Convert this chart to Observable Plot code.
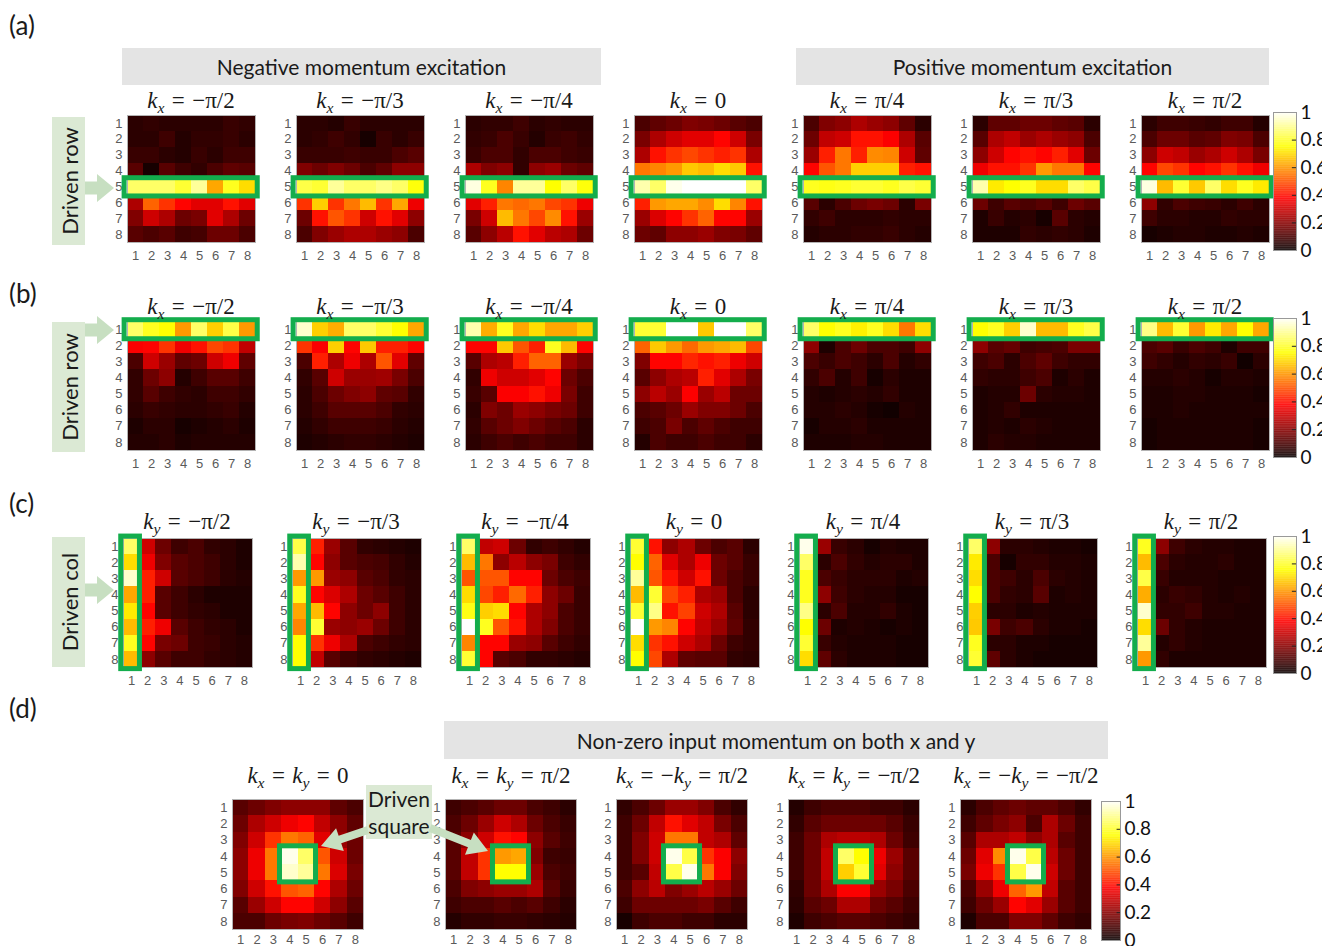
<!DOCTYPE html>
<html>
<head>
<meta charset="utf-8">
<script src="https://cdn.jsdelivr.net/npm/d3@7"></script>
<script src="https://cdn.jsdelivr.net/npm/@observablehq/plot@0.6"></script>
<style>
  body { margin: 0; background: #fff; }
  #fig { position: relative; width: 1322px; height: 946px; overflow: hidden; font-family: Lato, "Open Sans", sans-serif; color: #1a1a1a; }
  .abs { position: absolute; }
  .tag { font-size: 26px; line-height: 30px; }
  .band { background: #e4e4e4; display: flex; align-items: center; justify-content: center; font-size: 21px; }
  .title { font-family: "Liberation Serif", serif; font-size: 23px; line-height: 26px; white-space: nowrap; transform: translateX(-50%); }
  .title .sub { font-size: 0.68em; position: relative; top: 0.32em; font-style: italic; }
  .title .rel { margin: 0 0.32em; }
  .side { background: #dbe9d4; }
  .side span { position: absolute; left: 50%; top: 50%; transform: translate(-50%, -50%) rotate(-90deg); white-space: nowrap; font-size: 22px; }
  .note { background: #dbe9d4; font-size: 21px; line-height: 27px; text-align: center; display: flex; flex-direction: column; justify-content: center; }
</style>
</head>
<body>
<div id="fig"></div>
<script>
// ---------- momentum labels ----------
const kLabels = ["−π/2", "−π/3", "−π/4", "0", "π/4", "π/3", "π/2"];
const dTitles = [
  ["x", "=", "y", "0"],
  ["x", "=", "y", "π/2"],
  ["x", "=−", "y", "π/2"],
  ["x", "=", "y", "−π/2"],
  ["x", "=−", "y", "−π/2"]
];
const barTicks = [0, 0.2, 0.4, 0.6, 0.8, 1];

// ---------- (a) driven row 5, kx sweep (rows 1..8, columns 1..8) ----------
const a_m2 = [
  [0.05,0.06,0.05,0.05,0.05,0.05,0.07,0.06],
  [0.05,0.05,0.08,0.04,0.06,0.06,0.07,0.05],
  [0.07,0.07,0.05,0.04,0.07,0.05,0.08,0.08],
  [0.12,0.02,0.12,0.08,0.06,0.10,0.13,0.12],
  [0.85,0.85,0.85,0.80,0.90,0.62,0.78,0.70],
  [0.25,0.52,0.45,0.38,0.33,0.33,0.40,0.33],
  [0.18,0.30,0.25,0.15,0.17,0.33,0.25,0.15],
  [0.12,0.10,0.12,0.08,0.09,0.15,0.15,0.10]
];
const a_m3 = [
  [0.05,0.05,0.04,0.07,0.05,0.05,0.05,0.05],
  [0.05,0.06,0.08,0.06,0.02,0.07,0.05,0.07],
  [0.07,0.07,0.07,0.08,0.07,0.07,0.10,0.12],
  [0.18,0.15,0.18,0.15,0.10,0.13,0.20,0.20],
  [0.82,0.80,0.90,0.85,0.85,0.88,0.85,0.76],
  [0.45,0.68,0.45,0.55,0.65,0.45,0.62,0.35],
  [0.15,0.40,0.50,0.45,0.30,0.40,0.33,0.20],
  [0.10,0.18,0.22,0.25,0.25,0.22,0.20,0.10]
];
const a_m4 = [
  [0.05,0.06,0.06,0.08,0.05,0.06,0.05,0.05],
  [0.06,0.07,0.10,0.07,0.04,0.07,0.08,0.06],
  [0.07,0.10,0.10,0.06,0.10,0.10,0.08,0.07],
  [0.25,0.18,0.20,0.06,0.20,0.22,0.15,0.13],
  [0.97,0.78,0.57,0.90,0.90,0.75,0.85,0.76],
  [0.33,0.42,0.55,0.53,0.55,0.48,0.45,0.35],
  [0.17,0.30,0.65,0.55,0.48,0.58,0.40,0.22],
  [0.12,0.20,0.27,0.40,0.33,0.27,0.25,0.15]
];
const a_0 = [
  [0.10,0.13,0.15,0.18,0.17,0.15,0.12,0.10],
  [0.17,0.25,0.30,0.33,0.33,0.38,0.30,0.17],
  [0.25,0.40,0.45,0.48,0.45,0.42,0.45,0.25],
  [0.55,0.57,0.60,0.67,0.65,0.70,0.67,0.40],
  [0.92,0.85,0.98,1.00,1.00,1.00,1.00,0.85],
  [0.42,0.60,0.62,0.62,0.58,0.70,0.57,0.40],
  [0.22,0.32,0.38,0.45,0.52,0.38,0.38,0.22],
  [0.15,0.13,0.20,0.20,0.22,0.18,0.17,0.13]
];
const a_p4 = [
  [0.10,0.18,0.20,0.25,0.22,0.20,0.13,0.05],
  [0.15,0.28,0.30,0.40,0.40,0.37,0.25,0.12],
  [0.22,0.42,0.55,0.42,0.58,0.57,0.30,0.13],
  [0.38,0.50,0.55,0.68,0.68,0.68,0.42,0.40],
  [0.78,0.77,0.78,0.80,0.80,0.78,0.82,0.80],
  [0.12,0.05,0.10,0.15,0.17,0.15,0.05,0.17],
  [0.06,0.08,0.05,0.05,0.05,0.06,0.05,0.05],
  [0.04,0.05,0.05,0.06,0.06,0.07,0.05,0.04]
];
const a_p3 = [
  [0.05,0.13,0.13,0.15,0.15,0.13,0.12,0.05],
  [0.12,0.25,0.28,0.22,0.25,0.22,0.20,0.10],
  [0.20,0.30,0.38,0.40,0.38,0.42,0.33,0.15],
  [0.35,0.40,0.40,0.45,0.60,0.55,0.55,0.38],
  [0.92,0.72,0.75,0.78,0.70,0.70,0.85,0.82],
  [0.15,0.08,0.12,0.10,0.12,0.08,0.15,0.12],
  [0.03,0.07,0.04,0.05,0.02,0.12,0.05,0.04],
  [0.03,0.03,0.03,0.06,0.05,0.06,0.05,0.03]
];
const a_p2 = [
  [0.05,0.08,0.08,0.07,0.06,0.08,0.08,0.04],
  [0.10,0.15,0.15,0.12,0.13,0.18,0.17,0.10],
  [0.20,0.30,0.28,0.22,0.25,0.30,0.25,0.17],
  [0.38,0.48,0.45,0.38,0.40,0.45,0.40,0.35],
  [0.97,0.65,0.80,0.67,0.85,0.70,0.78,0.72],
  [0.20,0.06,0.10,0.08,0.07,0.05,0.08,0.05],
  [0.08,0.05,0.05,0.04,0.04,0.06,0.05,0.05],
  [0.02,0.03,0.04,0.04,0.03,0.03,0.04,0.03]
];

// ---------- (b) driven row 1, kx sweep ----------
const b_m2 = [
  [0.85,0.78,0.75,0.60,0.85,0.68,0.82,0.60],
  [0.37,0.38,0.45,0.35,0.40,0.48,0.45,0.28],
  [0.10,0.30,0.22,0.13,0.15,0.30,0.35,0.13],
  [0.06,0.15,0.20,0.04,0.08,0.12,0.12,0.08],
  [0.06,0.12,0.08,0.06,0.05,0.08,0.08,0.06],
  [0.05,0.07,0.06,0.05,0.05,0.06,0.07,0.04],
  [0.03,0.05,0.05,0.02,0.03,0.04,0.05,0.03],
  [0.04,0.04,0.05,0.03,0.04,0.04,0.04,0.04]
];
const b_m3 = [
  [0.95,0.68,0.63,0.85,0.85,0.80,0.75,0.62],
  [0.45,0.37,0.68,0.38,0.67,0.42,0.42,0.38],
  [0.10,0.42,0.25,0.35,0.25,0.50,0.33,0.13],
  [0.06,0.12,0.30,0.22,0.22,0.23,0.17,0.10],
  [0.05,0.10,0.15,0.18,0.20,0.13,0.12,0.06],
  [0.05,0.08,0.12,0.12,0.12,0.10,0.06,0.05],
  [0.04,0.06,0.08,0.08,0.08,0.07,0.05,0.04],
  [0.03,0.04,0.05,0.06,0.06,0.05,0.04,0.03]
];
const b_m4 = [
  [0.92,0.63,0.78,0.62,0.70,0.62,0.62,0.68],
  [0.38,0.38,0.67,0.50,0.42,0.78,0.65,0.38],
  [0.12,0.25,0.27,0.42,0.52,0.52,0.22,0.17],
  [0.06,0.35,0.30,0.30,0.33,0.38,0.15,0.10],
  [0.07,0.12,0.37,0.37,0.40,0.35,0.17,0.08],
  [0.05,0.18,0.15,0.22,0.20,0.17,0.15,0.08],
  [0.06,0.12,0.15,0.18,0.15,0.12,0.10,0.05],
  [0.05,0.08,0.10,0.08,0.10,0.08,0.08,0.05]
];
const b_0 = [
  [0.80,0.80,1.00,1.00,0.67,1.00,1.00,0.85],
  [0.52,0.67,0.60,0.53,0.60,0.62,0.65,0.48],
  [0.18,0.38,0.38,0.43,0.40,0.42,0.35,0.30],
  [0.12,0.20,0.25,0.27,0.42,0.33,0.25,0.17],
  [0.20,0.27,0.22,0.37,0.22,0.27,0.15,0.15],
  [0.10,0.12,0.15,0.22,0.18,0.18,0.15,0.10],
  [0.08,0.10,0.17,0.10,0.13,0.10,0.08,0.08],
  [0.04,0.10,0.08,0.08,0.10,0.08,0.08,0.05]
];
const b_p4 = [
  [0.85,0.75,0.78,0.73,0.78,0.70,0.55,0.70],
  [0.20,0.03,0.10,0.15,0.10,0.10,0.08,0.20],
  [0.10,0.07,0.10,0.08,0.05,0.10,0.04,0.06],
  [0.06,0.10,0.04,0.08,0.02,0.05,0.03,0.03],
  [0.04,0.03,0.04,0.05,0.04,0.06,0.03,0.03],
  [0.04,0.04,0.05,0.04,0.02,0.01,0.04,0.03],
  [0.02,0.04,0.04,0.05,0.03,0.03,0.03,0.03],
  [0.03,0.03,0.03,0.04,0.04,0.03,0.03,0.03]
];
const b_p3 = [
  [0.75,0.78,0.68,0.95,0.65,0.65,0.78,0.82],
  [0.20,0.12,0.14,0.08,0.09,0.10,0.17,0.17],
  [0.08,0.10,0.05,0.10,0.13,0.08,0.06,0.06],
  [0.06,0.05,0.05,0.08,0.10,0.03,0.05,0.03],
  [0.03,0.04,0.04,0.15,0.05,0.04,0.04,0.03],
  [0.03,0.04,0.06,0.03,0.03,0.03,0.03,0.03],
  [0.03,0.04,0.03,0.05,0.04,0.03,0.03,0.03],
  [0.03,0.05,0.04,0.04,0.03,0.03,0.03,0.03]
];
const b_p2 = [
  [0.88,0.65,0.80,0.60,0.72,0.62,0.75,0.62],
  [0.10,0.12,0.07,0.10,0.08,0.03,0.08,0.08],
  [0.08,0.06,0.04,0.06,0.05,0.07,0.01,0.05],
  [0.04,0.04,0.05,0.04,0.02,0.04,0.04,0.03],
  [0.03,0.03,0.04,0.04,0.03,0.03,0.03,0.02],
  [0.03,0.03,0.04,0.03,0.03,0.03,0.03,0.03],
  [0.02,0.03,0.03,0.03,0.03,0.03,0.03,0.02],
  [0.02,0.03,0.03,0.03,0.03,0.03,0.03,0.02]
];

// ---------- (c) driven column 1, ky sweep ----------
const c_m2 = [
  [0.85,0.30,0.15,0.08,0.10,0.06,0.05,0.03],
  [0.70,0.35,0.18,0.12,0.10,0.08,0.05,0.03],
  [0.95,0.42,0.30,0.12,0.10,0.08,0.05,0.04],
  [0.62,0.42,0.12,0.08,0.05,0.03,0.03,0.03],
  [0.72,0.38,0.12,0.08,0.06,0.05,0.03,0.03],
  [0.65,0.42,0.35,0.12,0.08,0.06,0.05,0.03],
  [0.78,0.38,0.17,0.15,0.08,0.07,0.05,0.04],
  [0.65,0.20,0.12,0.08,0.08,0.06,0.05,0.04]
];
const c_m3 = [
  [0.82,0.42,0.22,0.12,0.06,0.05,0.04,0.03],
  [0.92,0.38,0.20,0.12,0.10,0.09,0.06,0.04],
  [0.60,0.60,0.22,0.20,0.12,0.10,0.06,0.05],
  [0.78,0.38,0.32,0.25,0.15,0.12,0.08,0.05],
  [0.62,0.65,0.38,0.20,0.15,0.20,0.08,0.05],
  [0.57,0.80,0.22,0.20,0.22,0.15,0.08,0.05],
  [0.75,0.45,0.35,0.25,0.10,0.08,0.06,0.05],
  [0.75,0.28,0.12,0.08,0.06,0.05,0.04,0.03]
];
const c_m4 = [
  [0.85,0.28,0.30,0.15,0.06,0.08,0.06,0.04],
  [0.65,0.55,0.20,0.27,0.20,0.17,0.08,0.06],
  [0.50,0.50,0.50,0.38,0.38,0.15,0.10,0.08],
  [0.70,0.48,0.42,0.53,0.42,0.20,0.15,0.07],
  [0.77,0.68,0.70,0.38,0.25,0.20,0.10,0.07],
  [1.00,0.78,0.50,0.40,0.25,0.18,0.10,0.07],
  [0.57,0.38,0.38,0.22,0.20,0.12,0.08,0.06],
  [0.80,0.38,0.12,0.10,0.06,0.06,0.05,0.04]
];
const c_0 = [
  [0.80,0.40,0.20,0.25,0.15,0.10,0.12,0.05],
  [0.75,0.52,0.33,0.25,0.35,0.15,0.12,0.07],
  [0.90,0.50,0.40,0.30,0.40,0.15,0.10,0.07],
  [0.65,0.80,0.48,0.42,0.25,0.22,0.10,0.05],
  [0.80,0.88,0.40,0.47,0.30,0.25,0.12,0.05],
  [1.00,0.60,0.57,0.38,0.28,0.22,0.13,0.06],
  [0.70,0.45,0.40,0.30,0.25,0.15,0.08,0.06],
  [0.75,0.48,0.25,0.13,0.12,0.12,0.06,0.05]
];
const c_p4 = [
  [0.98,0.22,0.07,0.05,0.02,0.04,0.03,0.03],
  [0.85,0.05,0.10,0.06,0.04,0.05,0.05,0.03],
  [0.78,0.10,0.07,0.05,0.05,0.05,0.03,0.04],
  [0.78,0.20,0.08,0.05,0.04,0.04,0.02,0.02],
  [0.88,0.05,0.10,0.04,0.04,0.06,0.03,0.02],
  [0.75,0.15,0.03,0.04,0.03,0.02,0.03,0.02],
  [0.80,0.07,0.04,0.03,0.03,0.03,0.02,0.02],
  [0.70,0.13,0.05,0.03,0.03,0.03,0.02,0.02]
];
const c_p3 = [
  [0.85,0.20,0.05,0.05,0.04,0.03,0.03,0.02],
  [0.72,0.10,0.02,0.06,0.06,0.04,0.04,0.03],
  [0.70,0.10,0.08,0.05,0.10,0.05,0.04,0.03],
  [0.75,0.10,0.06,0.05,0.12,0.03,0.04,0.03],
  [0.68,0.05,0.05,0.03,0.04,0.03,0.03,0.03],
  [0.67,0.17,0.08,0.10,0.05,0.03,0.03,0.02],
  [0.78,0.05,0.05,0.03,0.03,0.02,0.02,0.02],
  [0.80,0.13,0.05,0.03,0.02,0.02,0.02,0.02]
];
const c_p2 = [
  [0.78,0.20,0.08,0.05,0.04,0.04,0.03,0.03],
  [0.65,0.10,0.05,0.04,0.04,0.05,0.03,0.03],
  [0.82,0.07,0.04,0.04,0.04,0.03,0.03,0.03],
  [0.63,0.05,0.07,0.06,0.04,0.03,0.04,0.03],
  [0.95,0.06,0.06,0.08,0.04,0.04,0.03,0.03],
  [0.70,0.15,0.06,0.04,0.03,0.03,0.03,0.03],
  [0.90,0.04,0.06,0.04,0.03,0.03,0.03,0.03],
  [0.60,0.06,0.03,0.03,0.03,0.03,0.03,0.03]
];

// ---------- (d) driven 2x2 square, momentum on both axes ----------
const d_00 = [
  [0.12,0.15,0.18,0.20,0.20,0.20,0.13,0.10],
  [0.15,0.25,0.30,0.35,0.38,0.28,0.20,0.13],
  [0.18,0.30,0.45,0.55,0.52,0.33,0.22,0.15],
  [0.20,0.35,0.55,0.98,0.85,0.50,0.30,0.15],
  [0.20,0.35,0.55,0.95,0.90,0.55,0.32,0.17],
  [0.18,0.30,0.40,0.50,0.52,0.38,0.25,0.15],
  [0.12,0.22,0.30,0.38,0.38,0.30,0.20,0.12],
  [0.10,0.10,0.15,0.17,0.18,0.15,0.12,0.08]
];
const d_pp = [
  [0.08,0.10,0.12,0.15,0.15,0.10,0.08,0.05],
  [0.10,0.15,0.22,0.30,0.25,0.15,0.10,0.07],
  [0.12,0.20,0.30,0.40,0.38,0.20,0.12,0.08],
  [0.12,0.28,0.45,0.60,0.62,0.18,0.08,0.07],
  [0.12,0.28,0.45,0.75,0.75,0.22,0.10,0.08],
  [0.10,0.18,0.20,0.22,0.22,0.25,0.12,0.07],
  [0.08,0.10,0.10,0.12,0.10,0.12,0.08,0.05],
  [0.04,0.06,0.06,0.07,0.07,0.06,0.05,0.04]
];
const d_pm = [
  [0.06,0.10,0.15,0.22,0.22,0.18,0.10,0.06],
  [0.08,0.15,0.28,0.40,0.33,0.28,0.17,0.10],
  [0.08,0.18,0.30,0.55,0.55,0.28,0.25,0.13],
  [0.08,0.18,0.30,0.98,0.82,0.45,0.37,0.20],
  [0.08,0.12,0.28,0.82,0.98,0.55,0.37,0.18],
  [0.10,0.20,0.27,0.18,0.22,0.27,0.22,0.15],
  [0.08,0.15,0.15,0.15,0.15,0.17,0.12,0.08],
  [0.02,0.08,0.10,0.10,0.08,0.08,0.05,0.05]
];
const d_mm = [
  [0.04,0.08,0.10,0.10,0.10,0.08,0.08,0.05],
  [0.06,0.12,0.15,0.15,0.15,0.15,0.12,0.07],
  [0.08,0.15,0.25,0.27,0.27,0.25,0.15,0.08],
  [0.08,0.15,0.28,0.85,0.75,0.35,0.22,0.12],
  [0.08,0.15,0.28,0.68,0.80,0.33,0.20,0.12],
  [0.06,0.15,0.25,0.37,0.37,0.22,0.17,0.10],
  [0.05,0.12,0.15,0.25,0.25,0.15,0.12,0.08],
  [0.03,0.08,0.10,0.12,0.12,0.10,0.08,0.06]
];
const d_mp = [
  [0.05,0.10,0.13,0.15,0.13,0.13,0.10,0.06],
  [0.08,0.13,0.17,0.20,0.10,0.25,0.15,0.08],
  [0.12,0.25,0.25,0.28,0.20,0.25,0.12,0.08],
  [0.15,0.33,0.58,0.98,0.82,0.27,0.15,0.08],
  [0.17,0.35,0.45,0.82,0.98,0.30,0.15,0.08],
  [0.10,0.22,0.35,0.52,0.60,0.28,0.12,0.08],
  [0.08,0.15,0.22,0.38,0.33,0.22,0.12,0.08],
  [0.03,0.10,0.10,0.18,0.18,0.13,0.08,0.06]
];

// ---------- styling ----------
const hotDomain = [0, 0.375, 0.75, 1];
const hotRange = ["#0a0000", "#ff0000", "#ffff00", "#ffffff"];
const driveGreen = "#13ad4c";
const noteGreen = "#c7dfc1";
const M = {left: 22, right: 8, top: 8, bottom: 24};

const fig = document.getElementById("fig");

function place(el, left, top) {
  el.style.position = "absolute";
  el.style.left = left + "px";
  el.style.top = top + "px";
  fig.appendChild(el);
  return el;
}

function div(cls, html, left, top, w, h) {
  const d = document.createElement("div");
  d.className = "abs " + cls;
  d.innerHTML = html;
  d.style.left = left + "px";
  d.style.top = top + "px";
  if (w != null) d.style.width = w + "px";
  if (h != null) d.style.height = h + "px";
  fig.appendChild(d);
  return d;
}

// One 8x8 intensity map with its highlighted driven region
function heatmap(values, left, top, w, h, box, padX = 8) {
  const cells = values.flatMap((row, i) => row.map((v, j) => ({row: i + 1, col: j + 1, v})));
  const chart = Plot.plot({
    width: w + M.left + M.right,
    height: h + M.top + M.bottom,
    marginLeft: M.left, marginRight: M.right, marginTop: M.top, marginBottom: M.bottom,
    style: {fontFamily: "'Liberation Sans', Arial, sans-serif", fontSize: "13px", color: "#5a5a5a", background: "transparent", overflow: "visible"},
    x: {domain: [0.5, 8.5], ticks: 8, tickSize: 0, tickPadding: padX, tickFormat: d => d, label: null},
    y: {domain: [0.5, 8.5], reverse: true, ticks: 8, tickSize: 0, tickPadding: 5, tickFormat: d => d, label: null},
    color: {type: "linear", domain: hotDomain, range: hotRange, clamp: true},
    marks: [
      Plot.rect(cells, {x1: d => d.col - 0.5, x2: d => d.col + 0.5, y1: d => d.row - 0.5, y2: d => d.row + 0.5, fill: "v", shapeRendering: "crispEdges"}),
      Plot.frame({stroke: "#b3b3b3", strokeWidth: 1}),
      Plot.rect([box], {x1: "x1", x2: "x2", y1: "y1", y2: "y2", fill: "none", stroke: driveGreen, strokeWidth: 5, clip: false})
    ]
  });
  place(chart, left - M.left, top - M.top);
}

// Vertical colour bar for the 0..1 scale
function colorbar(left, top, w, h) {
  const steps = d3.range(0, 1, 0.005);
  const chart = Plot.plot({
    width: w + 60, height: h + 20,
    marginLeft: 0, marginRight: 60, marginTop: 10, marginBottom: 10,
    style: {fontFamily: "Lato, 'Open Sans', sans-serif", fontSize: "19px", color: "#111", background: "transparent", overflow: "visible"},
    x: {domain: [0, 1], axis: null},
    y: {domain: [0, 1], axis: "right", ticks: barTicks, tickSize: 0, tickPadding: 4, tickFormat: d => (d === 0 || d === 1) ? String(d) : d.toFixed(1), label: null},
    color: {type: "linear", domain: hotDomain, range: hotRange, clamp: true},
    marks: [
      Plot.rect(steps, {x1: 0, x2: 1, y1: d => d, y2: d => d + 0.006, fill: d => d}),
      Plot.ruleY(barTicks.slice(1, -1), {x1: 0.82, x2: 1, stroke: "#222", strokeWidth: 1}),
      Plot.frame({stroke: "#999"})
    ]
  });
  place(chart, left, top - 10);
}

function kTitle(axis, label) {
  return `<i>k</i><span class="sub">${axis}</span><span class="rel">=</span>${label}`;
}

function dTitle([a, eq, b, label]) {
  const minus = eq === "=−" ? "−" : "";
  return `<i>k</i><span class="sub">${a}</span><span class="rel">=</span>${minus}<i>k</i><span class="sub">${b}</span><span class="rel">=</span>${label}`;
}

// ---------- panel layout ----------
const colLeftAB = [127, 296, 465, 634, 803, 972, 1141];
const colLeftC = [123, 292, 461, 630, 799, 968, 1137];
const colLeftD = [232, 445, 616, 788, 960];

const rowA = [a_m2, a_m3, a_m4, a_0, a_p4, a_p3, a_p2];
const rowB = [b_m2, b_m3, b_m4, b_0, b_p4, b_p3, b_p2];
const rowC = [c_m2, c_m3, c_m4, c_0, c_p4, c_p3, c_p2];
const rowD = [d_00, d_pp, d_pm, d_mm, d_mp];

const boxA = {x1: 0.32, x2: 8.64, y1: 4.45, y2: 5.6};
const boxB = {x1: 0.32, x2: 8.64, y1: 0.42, y2: 1.6};
const boxC = {x1: 0.36, x2: 1.52, y1: 0.38, y2: 8.6};
const boxD = {x1: 3.4, x2: 5.6, y1: 3.38, y2: 5.6};

// panel tags
div("tag", "(a)", 9, 10);
div("tag", "(b)", 9, 278);
div("tag", "(c)", 9, 488);
div("tag", "(d)", 9, 693);

// header bands
div("band", "Negative momentum excitation", 122, 48, 479, 37);
div("band", "Positive momentum excitation", 796, 48, 473, 37);
div("band", "Non-zero input momentum on both x and y", 444, 721, 664, 38);

// side labels
div("side", "<span>Driven row</span>", 52, 117, 33, 128);
div("side", "<span>Driven row</span>", 52, 322, 33, 130);
div("side", "<span>Driven col</span>", 52, 537, 33, 130);

rowA.forEach((vals, i) => {
  heatmap(vals, colLeftAB[i], 115, 128, 127, boxA);
  div("title", kTitle("x", kLabels[i]), colLeftAB[i] + 64, 88);
});
rowB.forEach((vals, i) => {
  heatmap(vals, colLeftAB[i], 321, 128, 129, boxB);
  div("title", kTitle("x", kLabels[i]), colLeftAB[i] + 64, 294);
});
rowC.forEach((vals, i) => {
  heatmap(vals, colLeftC[i], 538, 129, 129, boxC);
  div("title", kTitle("y", kLabels[i]), colLeftC[i] + 64, 509);
});
rowD.forEach((vals, i) => {
  heatmap(vals, colLeftD[i], 799, 131, 130, boxD, 5);
  div("title", dTitle(dTitles[i]), colLeftD[i] + 66, 763);
});

colorbar(1273, 112, 23, 138);
colorbar(1273, 318, 23, 139);
colorbar(1273, 536, 23, 137);
colorbar(1101, 801, 19, 139);

// "Driven square" note box
div("note", "<div>Driven</div><div>square</div>", 366, 785, 66, 54);

// arrows pointing at the driven regions
const ns = "http://www.w3.org/2000/svg";
const overlay = document.createElementNS(ns, "svg");
overlay.setAttribute("width", 1322);
overlay.setAttribute("height", 946);
overlay.style.position = "absolute";
overlay.style.left = "0px";
overlay.style.top = "0px";
overlay.style.pointerEvents = "none";
fig.appendChild(overlay);

function arrow(x0, y0, x1, y1, shaft, headLen, headW) {
  const dx = x1 - x0, dy = y1 - y0, L = Math.hypot(dx, dy);
  const ux = dx / L, uy = dy / L, nx = -uy, ny = ux;
  const bx = x1 - ux * headLen, by = y1 - uy * headLen;
  const pts = [
    [x0 + nx * shaft / 2, y0 + ny * shaft / 2],
    [bx + nx * shaft / 2, by + ny * shaft / 2],
    [bx + nx * headW / 2, by + ny * headW / 2],
    [x1, y1],
    [bx - nx * headW / 2, by - ny * headW / 2],
    [bx - nx * shaft / 2, by - ny * shaft / 2],
    [x0 - nx * shaft / 2, y0 - ny * shaft / 2]
  ];
  const p = document.createElementNS(ns, "polygon");
  p.setAttribute("points", pts.map(q => q.join(",")).join(" "));
  p.setAttribute("fill", noteGreen);
  overlay.appendChild(p);
}

arrow(85, 188, 114, 188, 13, 17, 28);
arrow(85, 330, 114, 330, 13, 17, 28);
arrow(85, 590, 114, 590, 13, 17, 28);
arrow(368, 830, 321, 846, 8, 20, 24);
arrow(430, 828, 488, 851, 8, 20, 24);
</script>
</body>
</html>
